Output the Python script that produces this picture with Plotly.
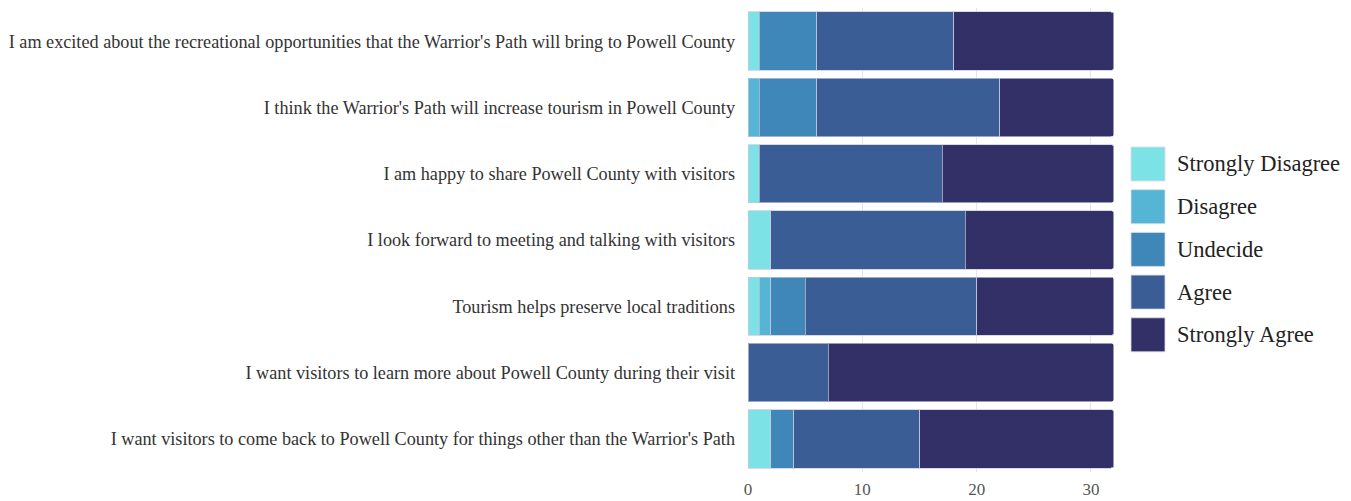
import plotly.graph_objects as go

categories = [
    "I am excited about the recreational opportunities that the Warrior's Path will bring to Powell County",
    "I think the Warrior's Path will increase tourism in Powell County",
    "I am happy to share Powell County with visitors",
    "I look forward to meeting and talking with visitors",
    "Tourism helps preserve local traditions",
    "I want visitors to learn more about Powell County during their visit",
    "I want visitors to come back to Powell County for things other than the Warrior's Path",
]
series_names = ["Strongly Disagree", "Disagree", "Undecide", "Agree", "Strongly Agree"]
strongly_disagree = [1, 0, 1, 2, 1, 0, 2]
disagree = [0, 1, 0, 0, 1, 0, 0]
undecide = [5, 5, 0, 0, 3, 0, 2]
agree = [12, 16, 16, 17, 15, 7, 11]
strongly_agree = [14, 10, 15, 13, 12, 25, 17]
series_values = [strongly_disagree, disagree, undecide, agree, strongly_agree]
colors = ["#7de2e6", "#56b4d4", "#3f87b8", "#3a5d96", "#333068"]
x_ticks = [0, 10, 20, 30]

W, H = 1351, 501
ML, MR, MT, MB = 748, 236, 8, 29
PW, PH = W - ML - MR, H - MT - MB

FONT = "Liberation Serif, Times New Roman, serif"

fig = go.Figure()
for name, vals, col in zip(series_names, series_values, colors):
    fig.add_trace(go.Bar(
        y=categories, x=vals, name=name, orientation="h",
        marker=dict(color=col, line=dict(color="rgba(200,200,220,0.7)", width=1)),
        showlegend=False,
    ))

# custom legend (large squares)
def px_x(p):
    return (p - ML) / PW

def px_y(p):
    return (H - MB - p) / PH

shapes, annotations = [], []
for i, (name, col) in enumerate(zip(series_names, colors)):
    cy = 164 + i * 42.7
    shapes.append(dict(type="rect", xref="paper", yref="paper",
                       x0=px_x(1131), x1=px_x(1165), y0=px_y(cy + 17), y1=px_y(cy - 17),
                       fillcolor=col, line=dict(color="rgba(220,220,230,0.8)", width=1)))
    annotations.append(dict(xref="paper", yref="paper", x=px_x(1175), y=px_y(cy),
                            text=name, showarrow=False, xanchor="left", yanchor="middle",
                            font=dict(family=FONT, size=22.5, color="#222")))

fig.update_layout(
    width=W, height=H,
    margin=dict(l=ML, r=MR, t=MT, b=MB, pad=0, autoexpand=False),
    barmode="stack", bargap=0.12, barcornerradius=3,
    plot_bgcolor="white", paper_bgcolor="white",
    font=dict(family=FONT, size=18, color="#333"),
    shapes=shapes, annotations=annotations,
    xaxis=dict(range=[0, 32.1], tickvals=x_ticks, showgrid=True, gridcolor="#e6e6e6",
               zeroline=False, showline=False, ticklabelstandoff=5, automargin=False,
               tickfont=dict(size=17, color="#555")),
    yaxis=dict(categoryorder="array", categoryarray=categories[::-1], automargin=False,
               showgrid=False, zeroline=False, ticklabelstandoff=12,
               tickfont=dict(size=18.2, color="#333")),
)

fig.write_html("out.html")
